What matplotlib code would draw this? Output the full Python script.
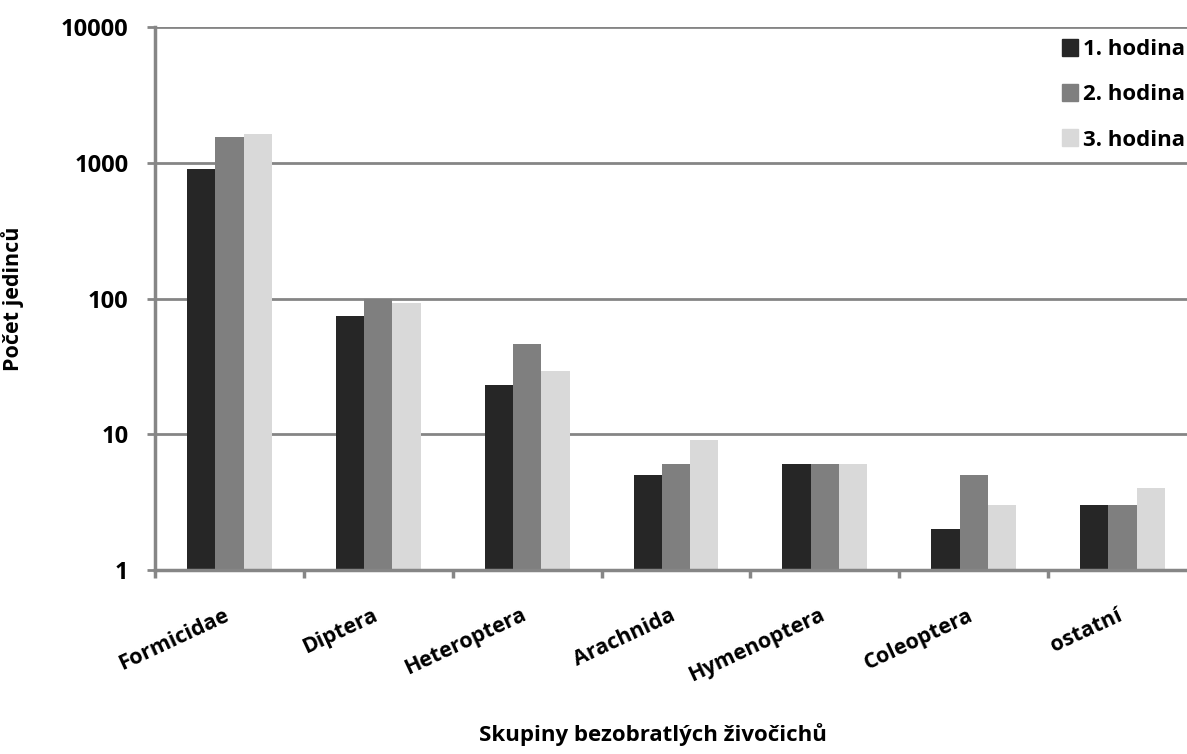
import matplotlib
matplotlib.use("Agg")
import matplotlib.pyplot as plt
import matplotlib.transforms as mtransforms
import numpy as np
from matplotlib.patches import Patch

categories = ['Formicidae', 'Diptera', 'Heteroptera', 'Arachnida',
              'Hymenoptera', 'Coleoptera', 'ostatní']
hodina1 = [900, 74, 23, 5, 6, 2, 3]
hodina2 = [1560, 100, 46, 6, 6, 5, 3]
hodina3 = [1620, 93, 29, 9, 6, 3, 4]
series_names = ['1. hodina', '2. hodina', '3. hodina']
colors = ['#262626', '#7f7f7f', '#d9d9d9']

plt.rcParams['font.family'] = ['Open Sans', 'DejaVu Sans']
plt.rcParams['font.weight'] = 'bold'

W, H = 1187, 754
fig = plt.figure(figsize=(W / 100, H / 100), dpi=100)
ax = fig.add_axes([155 / W, (H - 570) / H, (1197 - 155) / W, (570 - 27) / H])

x = np.arange(len(categories))
bw = 0.19
for i, (vals, name) in enumerate(zip([hodina1, hodina2, hodina3], series_names)):
    ax.bar(x + (i - 1) * bw, vals, width=bw, color=colors[i], label=name, zorder=2)

ax.set_yscale('log')
ax.set_ylim(1, 10000)
ax.set_xlim(-0.5, len(categories) - 0.5)
ax.set_yticks([1, 10, 100, 1000, 10000])
ax.set_yticklabels(['1', '10', '100', '1000', '10000'])
ax.yaxis.set_minor_locator(matplotlib.ticker.NullLocator())
ax.grid(axis='y', color='#858585', linewidth=2)
ax.set_axisbelow(True)

gray = '#868686'
for s in ['top', 'right']:
    ax.spines[s].set_visible(False)
ax.spines['left'].set_color(gray)
ax.spines['left'].set_linewidth(2.5)
ax.spines['bottom'].set_color(gray)
ax.spines['bottom'].set_linewidth(2.5)

ax.tick_params(axis='y', length=6, width=2, color=gray, pad=13, labelsize=17)
ax.set_xticks(np.arange(len(categories) + 1) - 0.5)
ax.set_xticklabels([])
ax.tick_params(axis='x', which='major', length=6, width=2.5, color=gray)
ax.set_xticks(x, minor=True)
ax.set_xticklabels(categories, minor=True, rotation=25, ha='right', va='top',
                   rotation_mode='anchor', fontsize=15.5)
ax.tick_params(axis='x', which='minor', length=0, pad=25)
shift = mtransforms.ScaledTranslation(-6 / 100, 0, fig.dpi_scale_trans)
for lab in ax.get_xticklabels(minor=True):
    lab.set_transform(lab.get_transform() + shift)

ax.set_ylabel('Počet jedinců', fontsize=15.5, fontweight='bold')
ax.yaxis.set_label_coords(-131 / (1197 - 155), 0.5)
fig.text(653 / W, (H - 735) / H, 'Skupiny bezobratlých živočichů',
         fontsize=16, ha='center', va='center')

handles = [Patch(color=c, label=n) for c, n in zip(colors, series_names)]
fig.legend(handles=handles, loc='upper right', bbox_to_anchor=(1.006, 0.96),
           frameon=False, fontsize=16, handlelength=0.7, handleheight=0.8,
           handletextpad=0.25, labelspacing=1.08, borderaxespad=0)

fig.savefig('out.png', dpi=100)
